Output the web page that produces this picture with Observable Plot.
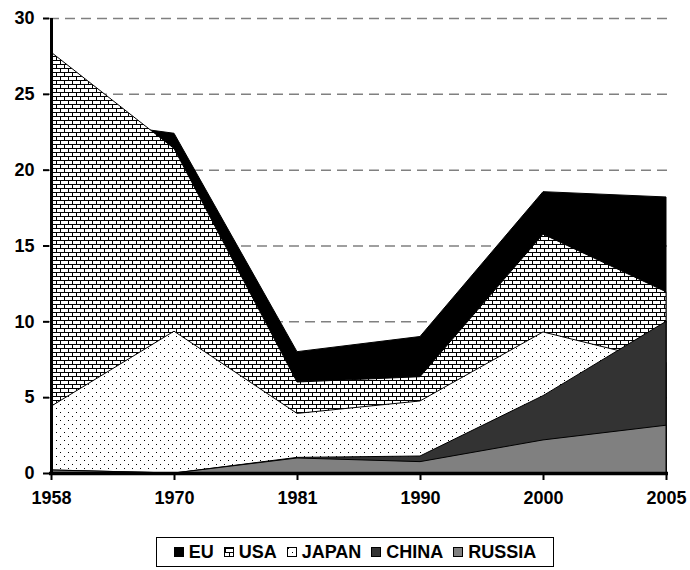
<!DOCTYPE html>
<html><head><meta charset="utf-8">
<script src="https://cdn.jsdelivr.net/npm/d3@7"></script>
<script src="https://cdn.jsdelivr.net/npm/@observablehq/plot@0.6"></script>
<style>
body{margin:0;background:#fff;font-family:"Liberation Sans",Arial,sans-serif;}
#chart svg text{font-family:"Liberation Sans",Arial,sans-serif !important;font-weight:bold !important;fill:#000;font-size:18px !important;}
#legend{position:absolute;left:156px;top:537px;width:398px;height:30px;border:1px solid #000;box-sizing:border-box;display:flex;align-items:center;justify-content:center;font-weight:bold;font-size:18px;}
#legend .item{display:flex;align-items:center;margin:0 5px;}
#legend .sw{width:10px;height:10px;border:1px solid #000;margin-right:5px;box-sizing:border-box;}
</style></head><body>
<svg style="position:absolute;width:0;height:0"><defs>
<pattern id="brick" width="8" height="8" patternUnits="userSpaceOnUse">
<rect width="8" height="8" fill="#fff"/>
<path d="M0,0.5H8M0,4.5H8M0.5,0V4.5M4.5,4.5V8" stroke="#000" stroke-width="1" fill="none"/>
</pattern>
<pattern id="dots" width="8" height="8" patternUnits="userSpaceOnUse">
<rect width="8" height="8" fill="#fff"/>
<rect x="0" y="0" width="1" height="1" fill="#000"/>
<rect x="4" y="4" width="1" height="1" fill="#000"/>
</pattern>
</defs></svg>
<div id="chart"></div>
<div id="legend"></div>
<script>
const years = ["1958","1970","1981","1990","2000","2005"];
const seriesNames = ["EU","USA","JAPAN","CHINA","RUSSIA"];
const eu     = [23.5, 22.4, 8.0, 9.0, 18.55, 18.2];
const usa    = [27.75, 21.4, 6.0, 6.35, 15.75, 11.95];
const japan  = [4.4, 9.35, 3.93, 4.75, 9.3, 7.3];
const china  = [0.2, 0, 1.03, 1.12, 5.1, 10.0];
const russia = [0.2, 0, 0.99, 0.75, 2.18, 3.15];
const yTicks = [0, 5, 10, 15, 20, 25, 30];

const values = {EU: eu, USA: usa, JAPAN: japan, CHINA: china, RUSSIA: russia};
const fills = {EU: "#000", USA: "url(#brick)", JAPAN: "url(#dots)", CHINA: "#333333", RUSSIA: "#808080"};

const areaMarks = seriesNames.map(name =>
  Plot.areaY(years.map((yr, i) => ({year: yr, v: values[name][i]})), {
    x: "year", y1: 0, y2: "v", fill: fills[name], stroke: "#000", strokeWidth: 1
  })
);

const chart = Plot.plot({
  width: 690, height: 520,
  marginLeft: 49, marginRight: 22, marginTop: 18, marginBottom: 47,
  style: {fontSize: "18px", fontWeight: "bold", fontFamily: "Liberation Sans, Arial, sans-serif"},
  x: {type: "point", domain: years, padding: 0},
  y: {domain: [0, 30]},
  marks: [
    Plot.ruleY(yTicks.filter(t => t > 0), {stroke: "#808080", strokeWidth: 1.5, strokeDasharray: "10,6"}),
    ...areaMarks,
    Plot.ruleX([years[0]], {stroke: "#000", strokeWidth: 3}),
    Plot.ruleY([0], {stroke: "#000", strokeWidth: 3.5}),
    Plot.axisY({ticks: yTicks, tickSize: 6, tickPadding: 9, strokeWidth: 2, fontSize: 18, label: null}),
    Plot.axisX({tickSize: 7, tickPadding: 11, strokeWidth: 2, fontSize: 18, label: null})
  ]
});
document.getElementById("chart").appendChild(chart);

const legend = document.getElementById("legend");
seriesNames.forEach(name => {
  const it = document.createElement("div");
  it.className = "item";
  const sw = document.createElement("div");
  sw.className = "sw";
  if (fills[name].startsWith("url")) {
    sw.innerHTML = `<svg width="8" height="8" style="display:block"><rect width="8" height="8" fill="${fills[name]}"/></svg>`;
  } else {
    sw.style.background = fills[name];
  }
  const t = document.createElement("span");
  t.textContent = name;
  it.appendChild(sw); it.appendChild(t);
  legend.appendChild(it);
});
</script>
</body></html>
